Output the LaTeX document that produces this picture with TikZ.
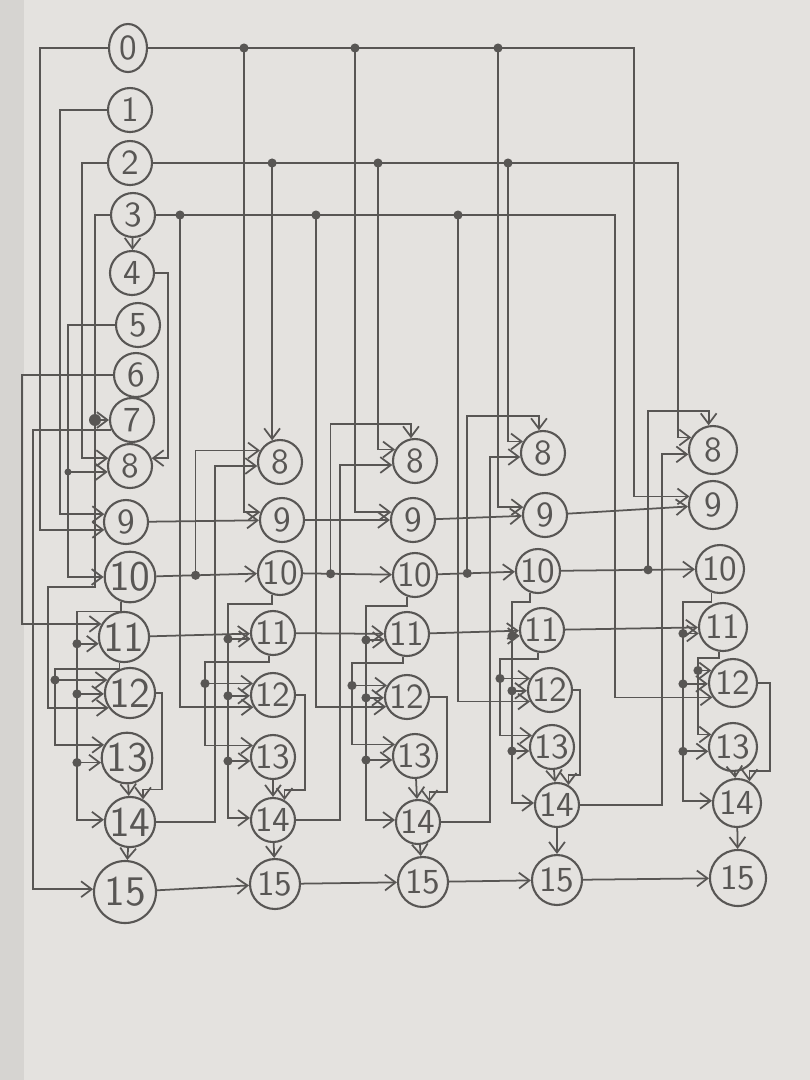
\documentclass[tikz,border=0pt]{standalone}
\usetikzlibrary{arrows.meta,calc,shapes.geometric}
\definecolor{pencil}{RGB}{88,86,84}
\definecolor{paper}{RGB}{228,226,223}
\definecolor{desk}{RGB}{214,212,209}
\tikzset{
  op/.style={circle,draw=pencil,line width=0.6pt,minimum size=4.4mm,inner sep=0pt,
    text=pencil,font=\sffamily},
  bigop/.style={op,minimum size=5mm,font=\sffamily\large},
  wire/.style={draw=pencil,line width=0.5pt},
  arr/.style={wire,-{Straight Barb[length=3pt,width=4.5pt]}},
  jdot/.style={circle,fill=pencil,inner sep=0pt,minimum size=2.6pt},
}
\begin{document}
\begin{tikzpicture}[x=0.1mm,y=-0.1mm]
% Sheet
\fill[desk] (0,0) rectangle (810,1080);
\fill[paper] (24,0) rectangle (810,1080);
\useasboundingbox (0,0) rectangle (810,1080);

% First stage: inputs 0..7 and cells 8..15
\node[op,ellipse,minimum width=3.8mm,minimum height=4.8mm] (s0-0) at (128,48) {0};
\foreach \i/\x/\y in {1/130/110,2/130/163,3/133/215,4/132/273,5/138/325,6/136/375,7/132/420,8/130/466,9/126/522}
  \node[op] (s0-\i) at (\x,\y) {\i};
\foreach \i/\x/\y in {10/130/577,11/124/637,12/130/693,13/127/758,14/130/822}
  \node[bigop] (s0-\i) at (\x,\y) {\i};
\node[bigop,minimum size=6.2mm] (s0-15) at (125,892) {15};

% Later stages
\foreach \i/\x/\y in {8/280/462,9/282/520,10/280/573,11/273/633,12/273/695,13/273/757,14/273/820}
  \node[op] (s1-\i) at (\x,\y) {\i};
\foreach \i/\x/\y in {8/415/461,9/413/520,10/415/575,11/407/634,12/407/697,13/415/756,14/418/822}
  \node[op] (s2-\i) at (\x,\y) {\i};
\foreach \i/\x/\y in {8/543/453,9/545/515,10/538/571,11/542/630,12/550/690,13/552/747,14/557/805}
  \node[op] (s3-\i) at (\x,\y) {\i};
\foreach \i/\x/\y in {8/713/450,9/713/505,10/720/569,11/723/627,12/733/683,13/733/747,14/737/803}
  \node[op,minimum size=4.8mm] (s4-\i) at (\x,\y) {\i};
\node[op,minimum size=5mm] (s1-15) at (275,884) {15};
\node[op,minimum size=5mm] (s2-15) at (423,882) {15};
\node[op,minimum size=5mm] (s3-15) at (557,880) {15};
\node[op,minimum size=5.6mm] (s4-15) at (738,878) {15};

% Buses from inputs 0, 2 and 3
\draw[arr] (s0-0.east) -- (634,48) |- (s4-9.160);
\draw[arr] (s0-2.east) -- (678,163) |- (s4-8.150);
\draw[arr] (s0-3.east) -- (615,215) |- (s4-12.215);
\foreach \x/\c in {244/1,355/2,498/3}
  \draw[arr] (\x,48) node[jdot]{} |- (s\c-9.160);
\draw[arr] (s1-8.110 |- 0,163) node[jdot]{} -- (s1-8.110);
\foreach \x/\c in {378/2,508/3}
  \draw[arr] (\x,163) node[jdot]{} |- (s\c-8.150);
\draw[arr] (180,215) node[jdot]{} |- (s1-12.212);
\draw[arr] (316,215) node[jdot]{} |- (s2-12.205);
\draw[arr] (458,215) node[jdot]{} |- (s3-12.210);

% Input wiring of the first stage
\draw[arr] (s0-3) -- (s0-4);
\draw[arr] (s0-4.east) -- (s0-4.east -| 168,0) |- (s0-8.20);
\draw[arr] (s0-0.west) -- (s0-0.west -| 40,0) |- (s0-9.200);
\draw[arr] (s0-1.west) -- (s0-1.west -| 60,0) |- (s0-9.160);
\draw[arr] (s0-2.west) -- (s0-2.west -| 82,0) |- (s0-8.160);
\draw[arr] (s0-5.west) -- (s0-5.west -| 68,0) |- (s0-10.west);
\draw[arr] (s0-8.195 -| 68,0) node[jdot,minimum size=2pt]{} -- (s0-8.195);
\draw[arr] (s0-6.west) -- (s0-6.west -| 22,0) |- (s0-11.150);
\draw[arr] (s0-7.205) -- (s0-7.205 -| 33,0) |- (s0-15.175);
\draw[arr] (s0-3.west) -- (s0-3.west -| 95,0) -- (95,587) -- (48,587) |- (s0-12.215);
\draw[arr] (s0-7.west -| 95,0) node[jdot,minimum size=3.4pt]{} -- (s0-7.west);

% Links from one stage to the next
\foreach \p/\c/\t/\u in {0/1/0.39/215,1/2/0.31/340,2/3/0.38/490,3/4/0.65/662}{
  \draw[arr] (s\p-9) -- (s\c-9);
  \draw[arr] (s\p-10) -- coordinate[pos=\t] (j\c) (s\c-10);
  \draw[arr] (s\p-11) -- (s\c-11);
  \draw[arr] (s\p-15) -- (s\c-15);
  \node[jdot] at (j\c) {};
  \draw[arr] (s\p-14.east) -- (s\p-14.east -| \u,0) |- (s\c-8.190);
}
\draw[arr] (j1) |- (s1-8.150);
\foreach \c in {2,3,4}
  \draw[arr] (j\c) |- ($(s\c-8.100)+(0,-14)$) -- (s\c-8.100);

% Inside every stage
\foreach \c/\sa/\sb/\rr in {0/77/55/162,1/228/205/305,2/366/352/447,3/512/500/580,4/683/698/770}{
  \coordinate (ta) at ($(s\c-10.south)+(0,8)$);
  \coordinate (tb) at ($(s\c-11.south)+(0,6)$);
  \draw[arr] (s\c-10.250) |- (ta -| \sa,0) |- (s\c-14.175);
  \draw[arr] (s\c-11.195 -| \sa,0) node[jdot]{} -- (s\c-11.195);
  \draw[arr] (s\c-12.182 -| \sa,0) node[jdot]{} -- (s\c-12.182);
  \draw[arr] (s\c-13.190 -| \sa,0) node[jdot]{} -- (s\c-13.190);
  \draw[arr] (s\c-11.260) |- (tb -| \sb,0) |- (s\c-13.150);
  \draw[arr] (s\c-12.150 -| \sb,0) node[jdot]{} -- (s\c-12.150);
  \draw[arr] (s\c-12.east) -- (s\c-12.east -| \rr,0) |- ($(s\c-14.60)+(0,-10)$) -- (s\c-14.60);
  \draw[arr] (s\c-13) -- (s\c-14);
  \draw[arr] (s\c-14) -- (s\c-15);
}
\end{tikzpicture}
\end{document}
